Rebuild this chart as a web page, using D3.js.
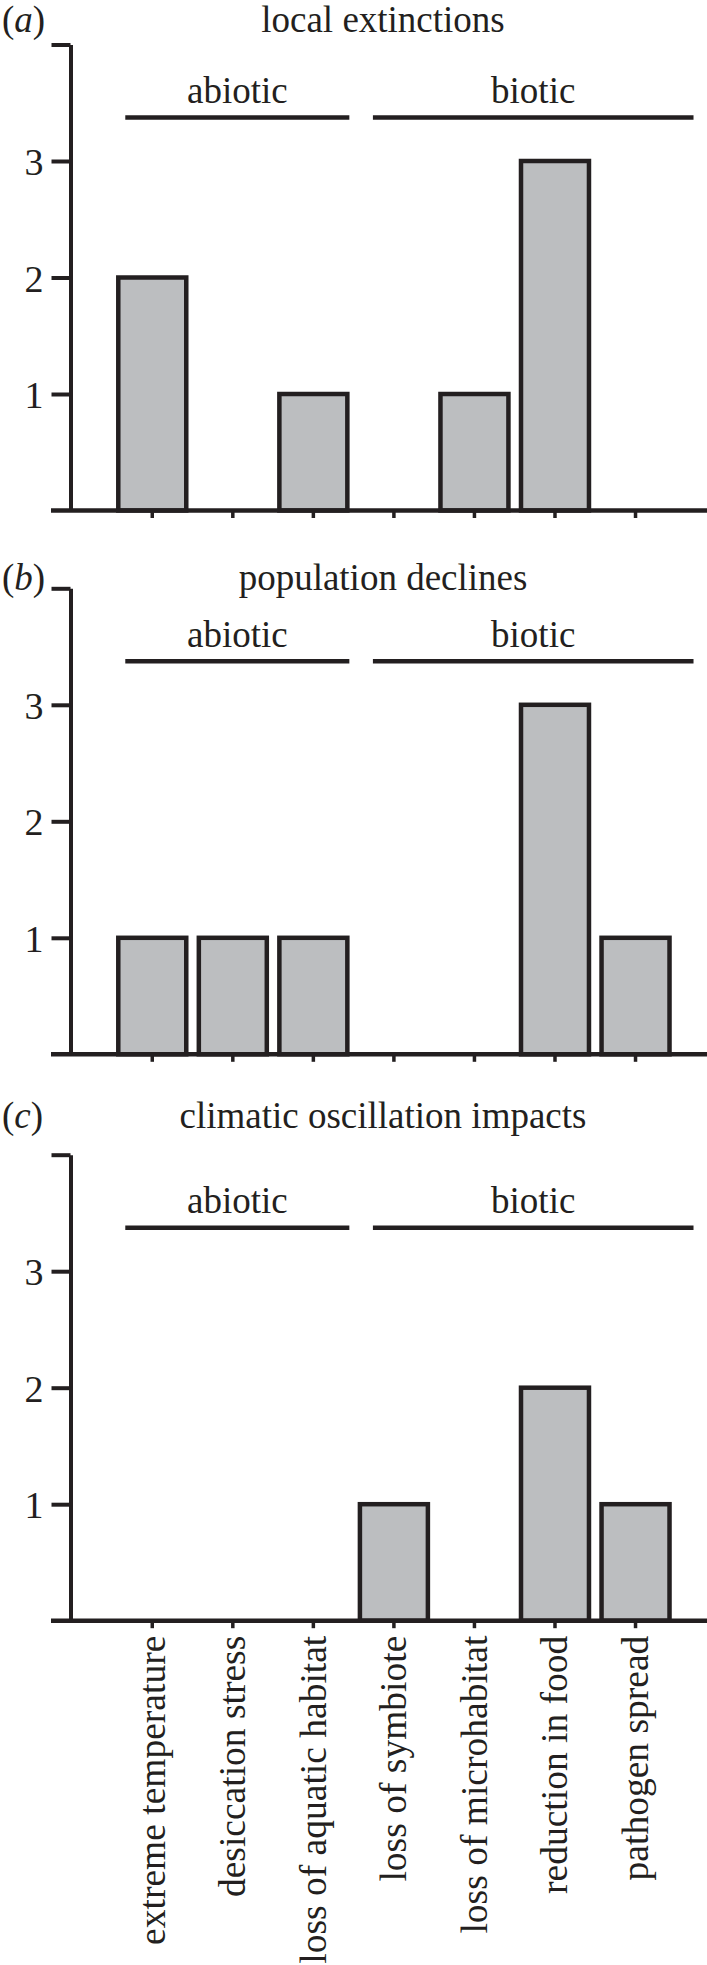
<!DOCTYPE html>
<meta charset="utf-8">
<style>

body {
  margin: 0;
  background: #fff;
}

text {
  font-family: "Liberation Serif", "Times New Roman", serif;
  font-size: 37px;
  fill: #231f20;
}

.axis path,
.axis line {
  stroke: #231f20;
  stroke-width: 4px;
}

.bar {
  fill: #bcbec0;
  stroke: #231f20;
  stroke-width: 4.5px;
}

</style>
<body>
<script src="https://d3js.org/d3.v7.min.js"></script>
<script>

var width = 707,
    height = 1965;

var categories = ["extreme temperature", "desiccation stress", "loss of aquatic habitat",
                  "loss of symbiote", "loss of microhabitat", "reduction in food", "pathogen spread"];

var localExtinctions = [2, 0, 1, 0, 1, 3, 0],
    populationDeclines = [1, 1, 1, 0, 0, 3, 1],
    climaticImpacts = [0, 0, 0, 1, 0, 2, 1];

var panelLetters = ["a", "b", "c"],
    panelTitles = ["local extinctions", "population declines", "climatic oscillation impacts"],
    panelValues = [localExtinctions, populationDeclines, climaticImpacts];

var groupNames = ["abiotic", "biotic"],
    groupFirst = [0, 3],
    groupLast = [2, 6];

var yTicks = [1, 2, 3, 4],
    yTickLabels = ["1", "2", "3", ""];

var panelTop = [44.5, 588.3, 1154.7],
    titleShift = [-12.5, 1.7, -26.5],
    plotHeight = 466,
    axisX = 70.5,
    groupPad = [[7, 2], [13, 24]];

var x = d3.scaleBand()
    .domain(categories)
    .range([112, 675.8])
    .paddingInner(0.156)
    .paddingOuter(0.078);

var svg = d3.select("body").append("svg")
    .attr("width", width)
    .attr("height", height);

panelValues.forEach(function(values, p) {
  var top = panelTop[p],
      bottom = top + plotHeight;

  var y = d3.scaleLinear().domain([0, 4]).range([bottom, top]);

  var g = svg.append("g");

  // panel letter and title
  var letter = g.append("text")
      .attr("x", 2)
      .attr("y", top + titleShift[p]);
  letter.append("tspan").text("(");
  letter.append("tspan").style("font-style", "italic").text(panelLetters[p]);
  letter.append("tspan").text(")");

  g.append("text")
      .attr("x", 383)
      .attr("y", top + titleShift[p])
      .attr("text-anchor", "middle")
      .text(panelTitles[p]);

  // abiotic / biotic brackets
  groupNames.forEach(function(name, i) {
    var x1 = x(categories[groupFirst[i]]) + groupPad[i][0],
        x2 = x(categories[groupLast[i]]) + x.bandwidth() + groupPad[i][1];
    g.append("line")
        .attr("x1", x1).attr("x2", x2)
        .attr("y1", top + 73).attr("y2", top + 73)
        .style("stroke", "#231f20")
        .style("stroke-width", 4.5);
    g.append("text")
        .attr("x", (x1 + x2) / 2)
        .attr("y", top + 58.5)
        .attr("text-anchor", "middle")
        .text(name);
  });

  // bars
  g.selectAll(".bar")
    .data(values.map(function(v, i) { return {cat: categories[i], v: v}; })
      .filter(function(d) { return d.v > 0; }))
    .enter().append("rect")
      .attr("class", "bar")
      .attr("x", function(d) { return x(d.cat); })
      .attr("width", x.bandwidth())
      .attr("y", function(d) { return y(d.v); })
      .attr("height", function(d) { return bottom - y(d.v); });

  // y axis
  var yAxis = g.append("g")
      .attr("class", "axis")
      .attr("transform", "translate(" + axisX + ",0)")
      .call(d3.axisLeft(y)
        .tickValues(yTicks)
        .tickFormat(function(d, i) { return yTickLabels[i]; })
        .tickSize(19)
        .tickSizeOuter(0)
        .tickPadding(8));
  yAxis.selectAll("text")
      .style("font-size", "38px")
      .style("font-family", "Liberation Serif")
      .attr("dy", "0.36em");

  // x axis
  var xAxis = g.append("g")
      .attr("class", "axis")
      .attr("transform", "translate(0," + bottom + ")")
      .call(d3.axisBottom(x).tickSize(7.5).tickSizeOuter(0));
  xAxis.select(".domain").remove();
  xAxis.selectAll(".tick line").style("stroke-width", 3.5);

  if (p === 2) {
    xAxis.selectAll("text")
        .style("font-size", "37.5px")
        .style("font-family", "Liberation Serif")
        .attr("text-anchor", "end")
        .attr("transform", "rotate(-90)")
        .attr("x", -15)
        .attr("y", 0)
        .attr("dy", "0.33em");
  } else {
    xAxis.selectAll("text").remove();
  }

  g.append("line")
      .attr("x1", axisX - 19.5).attr("x2", width)
      .attr("y1", bottom).attr("y2", bottom)
      .style("stroke", "#231f20")
      .style("stroke-width", 4.5);
});

</script>
